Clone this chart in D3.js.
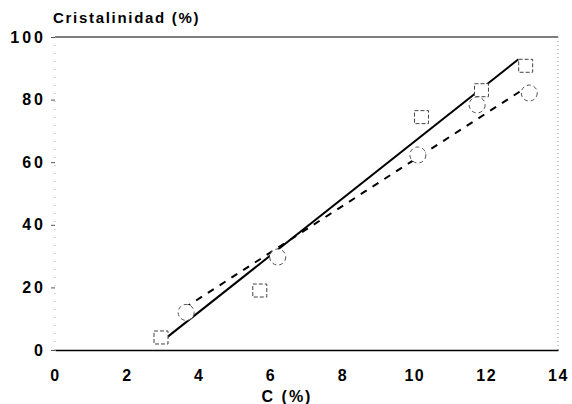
<!DOCTYPE html>
<html><head><meta charset="utf-8">
<script src="https://cdn.jsdelivr.net/npm/d3@7"></script>
<style>body{margin:0;background:#fff}svg{display:block}text{font-family:"Liberation Sans",Arial,sans-serif;font-weight:bold;fill:#000}</style>
</head><body><svg id="c" width="572" height="404"></svg>
<script>
const xTicks = [0, 2, 4, 6, 8, 10, 12, 14];
const yTicks = [0, 20, 40, 60, 80, 100];
const squaresX = [2.95, 5.7, 10.2, 11.87, 13.1];
const squaresY = [4, 19, 74.4, 83, 90.8];
const circlesX = [3.65, 6.2, 10.1, 11.75, 13.2];
const circlesY = [12, 29.7, 62.3, 78.3, 82.1];
const solidFitX = [3.0, 12.9];
const solidFitY = [3.0, 92.9];
const dashFitX = [3.6, 13.2];
const dashFitY = [13.4, 84.5];
const xTitle = "C (%)";
const yTitle = "Cristalinidad (%)";

const svg = d3.select("#c");
const x = d3.scaleLinear().domain([0, 14]).range([55, 558]);
const y = d3.scaleLinear().domain([0, 100]).range([350, 37]);

// frame
svg.append("line").attr("x1", x(0)).attr("x2", x(14)).attr("y1", y(100)).attr("y2", y(100)).attr("stroke", "#000").attr("stroke-width", 1.2);
svg.append("line").attr("x1", x(14)).attr("x2", x(14)).attr("y1", y(100)).attr("y2", y(0)).attr("stroke", "#888").attr("stroke-width", 1).attr("stroke-dasharray", "1,3");
svg.append("line").attr("x1", x(0)).attr("x2", x(0)).attr("y1", y(100)).attr("y2", y(0)).attr("stroke", "#aaa").attr("stroke-width", 1).attr("stroke-dasharray", "1,7");

// x axis
const gx = svg.append("g").attr("transform", `translate(0,${y(0)})`)
  .call(d3.axisBottom(x).tickValues(xTicks).tickSize(0).tickPadding(20).tickFormat(d3.format("d")));
gx.select(".domain").attr("stroke", "#000").attr("stroke-width", 1.5);
gx.selectAll("text").style("font-size", "16px").style("letter-spacing", "1.5px").style("font-family", '"Liberation Sans",Arial,sans-serif').style("font-weight", "bold");

// y axis
const gy = svg.append("g").attr("transform", `translate(${x(0)},0)`)
  .call(d3.axisLeft(y).tickValues(yTicks).tickSize(4).tickPadding(5).tickFormat(d3.format("d")));
gy.select(".domain").remove();
gy.selectAll(".tick line").attr("stroke", "#555");
gy.selectAll("text").style("font-size", "16px").style("letter-spacing", "3px").style("font-family", '"Liberation Sans",Arial,sans-serif').style("font-weight", "bold");

// fit lines
const line = d3.line().x(d => x(d[0])).y(d => y(d[1]));
svg.append("path").datum(d3.zip(solidFitX, solidFitY)).attr("d", line).attr("fill", "none").attr("stroke", "#000").attr("stroke-width", 2);
svg.append("path").datum(d3.zip(dashFitX, dashFitY)).attr("d", line).attr("fill", "none").attr("stroke", "#000").attr("stroke-width", 2).attr("stroke-dasharray", "7,7");

// markers
const sq = 14;
svg.append("g").selectAll("rect").data(d3.zip(squaresX, squaresY)).join("rect")
  .attr("x", d => x(d[0]) - sq / 2).attr("y", d => y(d[1]) - sq / 2 + 0.5)
  .attr("width", sq).attr("height", sq - 1)
  .attr("fill", "#fff").attr("stroke", "#444").attr("stroke-width", 1).attr("stroke-dasharray", "4,2");
svg.append("g").selectAll("circle").data(d3.zip(circlesX, circlesY)).join("circle")
  .attr("cx", d => x(d[0])).attr("cy", d => y(d[1])).attr("r", 8)
  .attr("fill", "#fff").attr("stroke", "#555").attr("stroke-width", 1).attr("stroke-dasharray", "4,3");

// titles
svg.append("text").attr("x", 53).attr("y", 23).style("font-size", "15px").style("letter-spacing", "1.7px").text(yTitle);
svg.append("text").attr("x", 287).attr("y", 402).attr("text-anchor", "middle").style("font-size", "16px").style("letter-spacing", "2px").text(xTitle);
</script></body></html>
